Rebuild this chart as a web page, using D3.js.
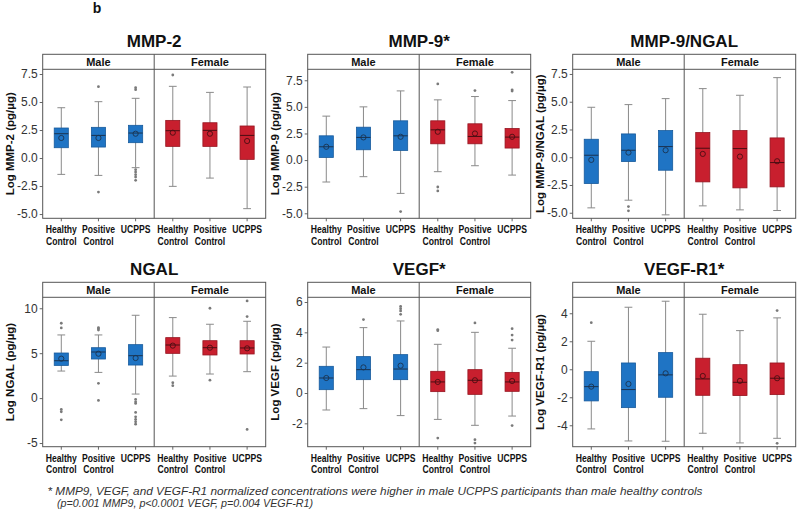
<!DOCTYPE html>
<html><head><meta charset="utf-8">
<script src="https://cdn.jsdelivr.net/npm/d3@7"></script>
<style>
body{margin:0;background:#fff;}
svg{display:block;font-family:"Liberation Sans",Arial,sans-serif;}
</style></head>
<body><svg id="c" width="800" height="512"></svg>
<script>
// ---- data ----
const groups = ["Healthy Control", "Positive Control", "UCPPS"];
const sexes = ["Male", "Female"];
// rows: Male HC, Male PC, Male UCPPS, Female HC, Female PC, Female UCPPS
// each: [whiskerLow, q1, median, q3, whiskerHigh, mean]
const mmp2Stats = [
  [-1.46, 0.92, 2.17, 2.68, 4.49, 1.79],
  [-1.55, 0.98, 2.02, 2.74, 5.03, 1.79],
  [-0.86, 1.37, 2.23, 2.92, 5.33, 2.17],
  [-2.53, 1.04, 2.44, 3.36, 6.40, 2.26],
  [-1.79, 1.04, 2.47, 3.15, 5.86, 2.17],
  [-4.52, -0.12, 2.02, 2.86, 6.34, 1.52]];
const mmp2Outliers = [[], [6.37, -3.04], [6.28, 6.10, -1.04, -1.25, -1.49, -1.70, -1.99], [7.41], [], []];

const mmp9Stats = [
  [-2.06, 0.25, 1.25, 2.28, 4.13, 1.25],
  [-1.56, 0.97, 2.13, 3.09, 5.00, 2.13],
  [-3.13, 0.91, 2.28, 3.69, 6.50, 2.19],
  [-1.09, 1.53, 2.84, 3.69, 5.66, 2.66],
  [-0.53, 1.53, 2.22, 3.41, 5.97, 2.50],
  [-1.41, 1.13, 2.16, 2.97, 5.59, 2.19]];
const mmp9Outliers = [[], [], [-4.84], [7.16, -2.53, -2.90], [6.53], [8.25, 6.60, 6.48]];

const mmp9ngalStats = [
  [-4.56, -2.37, 0.18, 1.62, 4.50, -0.24],
  [-3.87, -0.39, 0.63, 2.10, 4.74, 0.42],
  [-5.19, -1.17, 0.96, 2.40, 5.28, 0.63],
  [-4.38, -2.22, 0.81, 2.22, 6.18, 0.30],
  [-4.74, -2.76, 0.78, 2.40, 5.58, 0.06],
  [-4.80, -2.67, -0.48, 1.74, 7.17, -0.36]];
const mmp9ngalOutliers = [[], [-4.44, -4.83], [], [], [], []];

const ngalStats = [
  [3.01, 3.64, 4.16, 5.02, 7.03, 4.39],
  [2.86, 4.35, 5.13, 5.61, 7.03, 4.94],
  [0.45, 3.68, 4.72, 5.95, 9.22, 4.46],
  [2.45, 4.98, 5.91, 6.73, 8.96, 5.84],
  [2.68, 4.80, 5.61, 6.39, 8.22, 5.61],
  [2.94, 4.91, 5.58, 6.39, 8.55, 5.54]];
const ngalOutliers = [[8.33, 7.81, -1.26, -1.52, -2.42], [7.84, 7.73, 7.58, 1.64, -0.26],
  [-0.15, -0.41, -0.59, -1.60, -2.08, -2.38, -2.64, -2.90], [1.71, 1.38], [10.0, 2.0], [10.82, 9.07, -3.49]];

const vegfStats = [
  [-1.12, 0.22, 0.99, 1.76, 3.03, 0.99],
  [-1.03, 0.88, 1.54, 2.40, 4.31, 1.69],
  [-1.49, 0.88, 1.58, 2.53, 4.75, 1.80],
  [-1.74, 0.09, 0.73, 1.43, 3.21, 0.73],
  [-2.13, -0.09, 0.84, 1.54, 4.00, 0.84],
  [-1.52, 0.11, 0.73, 1.36, 2.95, 0.79]];
const vegfOutliers = [[], [4.84], [5.71, 5.56, 5.41, 5.19], [4.18, 4.11, -2.97], [4.62, -3.08, -3.30], [4.24, 3.82, 3.49, -2.15]];

const vegfr1Stats = [
  [-4.26, -2.26, -1.24, -0.17, 2.00, -1.24],
  [-5.12, -2.74, -1.45, 0.45, 4.43, -1.05],
  [-5.14, -2.00, -0.40, 1.19, 4.86, -0.29],
  [-4.57, -1.86, -0.69, 0.79, 3.93, -0.48],
  [-5.26, -1.88, -0.93, 0.33, 2.76, -0.83],
  [-4.93, -1.81, -0.64, 0.45, 3.67, -0.64]];
const vegfr1Outliers = [[3.33], [], [], [], [], [4.19, -5.29]];

const titles = ["MMP-2", "MMP-9*", "MMP-9/NGAL", "NGAL", "VEGF*", "VEGF-R1*"];
const yLabels = ["Log MMP-2 (pg/µg)", "Log MMP-9 (pg/µg)", "Log MMP-9/NGAL (pg/µg)",
  "Log NGAL (pg/µg)", "Log VEGF (pg/µg)", "Log VEGF-R1 (pg/µg)"];
const yTicks = [
  [-5, -2.5, 0, 2.5, 5, 7.5],
  [-5, -2.5, 0, 2.5, 5, 7.5],
  [-5, -2.5, 0, 2.5, 5, 7.5],
  [-5, 0, 5, 10],
  [-2, 0, 2, 4, 6],
  [-4, -2, 0, 2, 4]];
const yDecimals = [1, 1, 1, 0, 0, 0];
const yDomains = [[-5.38, 7.92], [-5.47, 8.53], [-5.5, 7.92], [-5.41, 11.22], [-3.54, 6.31], [-5.53, 5.14]];
const allStats = [mmp2Stats, mmp9Stats, mmp9ngalStats, ngalStats, vegfStats, vegfr1Stats];
const allOutliers = [mmp2Outliers, mmp9Outliers, mmp9ngalOutliers, ngalOutliers, vegfOutliers, vegfr1Outliers];
const footnote1 = "* MMP9, VEGF, and VEGF-R1 normalized concentrations were higher in male UCPPS participants than male healthy controls";
const footnote2 = "(p=0.001 MMP9, p<0.0001 VEGF, p=0.004 VEGF-R1)";

// ---- layout ----
const svg = d3.select("#c");
const lefts = [42.7, 307.7, 572.7];
const rowTop = [54.3, 282.3];
const stripH = 15;
const rowBottom = [218.3, 446.7];
const panelW = 223;
const fill = {Male: "#1f74c4", Female: "#c81f2e"};
const edge = {Male: "#175a9c", Female: "#961520"};
const dark = {Male: "#1a3350", Female: "#4a0d12"};

svg.append("text").attr("x", 97).attr("y", 13).attr("text-anchor", "middle")
  .attr("font-weight", "bold").attr("font-size", 14).attr("fill", "#111").text("b");

titles.forEach((title, p) => {
  const row = Math.floor(p / 3), col = p % 3;
  const L = lefts[col], R = L + panelW, ST = rowTop[row], SB = ST + stripH, PB = rowBottom[row];
  const mid = (L + R) / 2;
  const g = svg.append("g");
  const y = d3.scaleLinear().domain(yDomains[p]).range([PB, SB]);
  const facetX = sexes.map((s, i) => d3.scaleBand().domain(groups)
    .range([L + i * panelW / 2, L + (i + 1) * panelW / 2]).padding(0));

  // title
  g.append("text").attr("x", mid).attr("y", ST - 7.5).attr("text-anchor", "middle")
    .attr("font-weight", "bold").attr("font-size", 17).attr("fill", "#111").text(title);

  // y axis
  const yAxis = d3.axisLeft(y).tickValues(yTicks[p]).tickSize(3).tickPadding(2)
    .tickFormat(d => d.toFixed(yDecimals[p]));
  const ya = g.append("g").attr("transform", `translate(${L},0)`).call(yAxis);
  ya.select(".domain").remove();
  ya.selectAll("line").attr("stroke", "#666");
  ya.selectAll("text").attr("font-size", 12).attr("fill", "#333")
    .attr("font-family", "'Liberation Sans',Arial,sans-serif");

  // y label
  g.append("text").attr("transform", `translate(${L - 33},${(SB + PB) / 2}) rotate(-90)`)
    .attr("text-anchor", "middle").attr("dominant-baseline", "central")
    .attr("font-weight", "bold").attr("font-size", 11.5).attr("fill", "#111").text(yLabels[p]);

  sexes.forEach((sex, si) => {
    const x = facetX[si];
    const bw = x.bandwidth();
    const boxW = bw * 0.38, capW = bw * 0.21;
    // strip label
    g.append("text").attr("x", (x.range()[0] + x.range()[1]) / 2).attr("y", SB - 3.5)
      .attr("text-anchor", "middle").attr("font-weight", "bold").attr("font-size", 11)
      .attr("fill", "#111").text(sex);
    groups.forEach((grp, gi) => {
      const st = allStats[p][si * 3 + gi];
      const out = allOutliers[p][si * 3 + gi];
      const cx = x(grp) + bw / 2;
      // whisker
      g.append("line").attr("x1", cx).attr("x2", cx).attr("y1", y(st[0])).attr("y2", y(st[4]))
        .attr("stroke", "#8a8a8a").attr("stroke-width", 1);
      [st[0], st[4]].forEach(v => g.append("line").attr("x1", cx - capW / 2).attr("x2", cx + capW / 2)
        .attr("y1", y(v)).attr("y2", y(v)).attr("stroke", "#8a8a8a").attr("stroke-width", 1));
      // box
      g.append("rect").attr("x", cx - boxW / 2).attr("width", boxW)
        .attr("y", y(st[3])).attr("height", y(st[1]) - y(st[3]))
        .attr("fill", fill[sex]).attr("stroke", edge[sex]).attr("stroke-width", 0.8);
      // median
      g.append("line").attr("x1", cx - boxW / 2).attr("x2", cx + boxW / 2)
        .attr("y1", y(st[2])).attr("y2", y(st[2])).attr("stroke", dark[sex]).attr("stroke-width", 1);
      // mean
      g.append("circle").attr("cx", cx).attr("cy", y(st[5])).attr("r", 2.6)
        .attr("fill", "none").attr("stroke", dark[sex]).attr("stroke-width", 0.9);
      // outliers
      out.forEach(v => g.append("circle").attr("cx", cx).attr("cy", y(v)).attr("r", 1.4)
        .attr("fill", "#7a7a7a"));
      // x tick and label
      g.append("line").attr("x1", cx).attr("x2", cx).attr("y1", PB).attr("y2", PB + 3)
        .attr("stroke", "#666");
      const words = grp.split(" ");
      words.forEach((w, wi) => g.append("text")
        .attr("transform", `translate(${cx},${PB + 15 + wi * 11.5}) scale(0.82,1)`)
        .attr("text-anchor", "middle").attr("font-weight", "bold").attr("font-size", 10.5)
        .attr("fill", "#111").text(w));
    });
  });

  // frame
  g.append("rect").attr("x", L).attr("y", ST).attr("width", panelW).attr("height", PB - ST)
    .attr("fill", "none").attr("stroke", "#555").attr("stroke-width", 1);
  g.append("line").attr("x1", L).attr("x2", R).attr("y1", SB).attr("y2", SB)
    .attr("stroke", "#555").attr("stroke-width", 1);
  g.append("line").attr("x1", mid).attr("x2", mid).attr("y1", ST).attr("y2", PB)
    .attr("stroke", "#555").attr("stroke-width", 1);
});

// footnote
svg.append("text").attr("x", 47.5).attr("y", 495).attr("font-style", "italic").attr("font-size", 11.5)
  .attr("fill", "#333").attr("textLength", 655).attr("lengthAdjust", "spacingAndGlyphs").text(footnote1);
svg.append("text").attr("x", 57).attr("y", 507).attr("font-style", "italic").attr("font-size", 11.5)
  .attr("fill", "#333").attr("textLength", 256).attr("lengthAdjust", "spacingAndGlyphs").text(footnote2);
</script></body></html>
